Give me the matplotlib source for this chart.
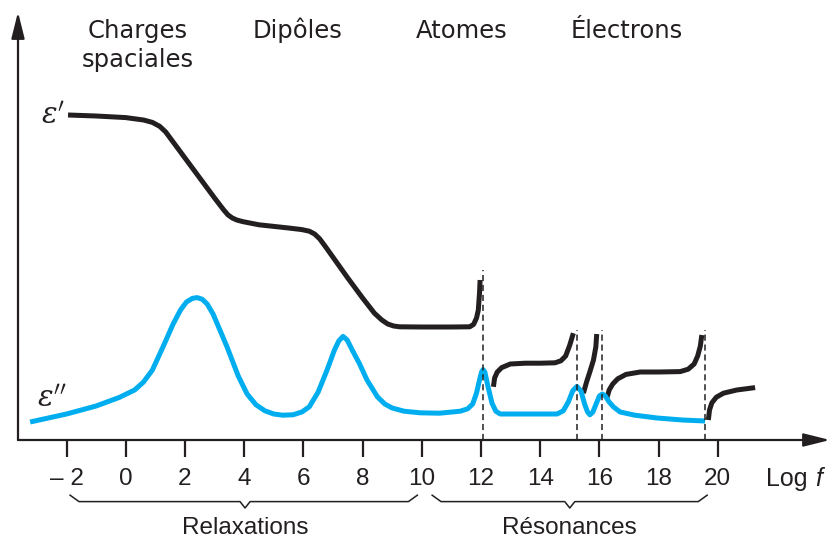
import numpy as np
import matplotlib
matplotlib.use("Agg")
import matplotlib.pyplot as plt

# --- data (x = log f, y = arbitrary units) ---
eps1_x = [-1.95, -1.0, 0.0, 0.6, 0.9, 1.15, 1.35, 1.6, 2.0, 2.5, 3.0, 3.3, 3.45, 3.6, 3.75,
          3.95, 4.5, 5.5, 5.95, 6.2, 6.38, 6.55, 6.75, 7.0, 7.5, 8.0, 8.4, 8.65, 8.85,
          9.05, 9.25, 10.0, 11.0, 11.62, 11.75, 11.85, 11.91, 11.95, 11.97]
eps1_y = [81.25, 81.0, 80.6, 80.0, 79.4, 78.4, 77.0, 74.5, 70.5, 65.5, 60.5, 57.6, 56.3, 55.5, 55.0,
          54.6, 53.8, 53.0, 52.6, 52.2, 51.5, 50.3, 48.3, 45.7, 40.5, 35.5, 31.7, 30.0, 29.0,
          28.5, 28.3, 28.25, 28.25, 28.3, 28.9, 30.5, 32.5, 36.7, 40.0]

eps2_x = [-3.23, -2.0, -1.0, -0.2, 0.3, 0.6, 0.9, 1.26, 1.6, 1.85, 2.05, 2.25, 2.41, 2.58,
          2.75, 2.95, 3.42, 3.8, 4.1, 4.4, 4.7, 5.0, 5.3, 5.65, 5.95, 6.2, 6.5, 6.8, 7.05, 7.2,
          7.34, 7.48, 7.65, 7.9, 8.15, 8.5, 8.75, 9.0, 9.4, 9.94, 10.6, 11.3, 11.55, 11.72,
          11.85, 11.95, 12.02, 12.07, 12.13, 12.24, 12.37, 12.5, 12.65, 13.5, 14.57, 14.78,
          14.95, 15.1, 15.24, 15.38, 15.5, 15.6, 15.68, 15.78, 15.9, 16.0, 16.1, 16.2, 16.32,
          16.47, 16.7, 17.2, 17.95, 18.8, 19.57]
eps2_y = [4.5, 6.5, 8.5, 10.7, 12.5, 14.5, 17.5, 23.3, 29.0, 32.5, 34.5, 35.4, 35.6, 35.2,
          34.0, 31.5, 23.3, 16.0, 11.5, 8.8, 7.3, 6.5, 6.2, 6.3, 7.0, 8.3, 12.0, 17.5, 22.5, 24.8,
          25.9, 25.0, 22.5, 19.0, 15.0, 10.8, 9.0, 8.0, 7.2, 6.8, 6.7, 7.2, 7.8, 9.0,
          11.75, 15.0, 17.0, 17.6, 17.0, 13.25, 9.25, 7.2, 6.5, 6.5, 6.5, 7.3,
          9.5, 12.3, 13.4, 12.2, 9.0, 7.0, 6.3, 7.0, 9.2, 11.0, 11.5, 11.0, 9.6,
          8.3, 7.0, 6.2, 5.5, 5.0, 4.75]

# black resonance segments (epsilon')
res1_x = [12.42, 12.46, 12.55, 12.7, 12.99, 13.5, 14.0, 14.5, 14.7, 14.86, 15.0, 15.12]
res1_y = [13.3, 15.5, 17.0, 18.1, 19.0, 19.2, 19.2, 19.3, 19.8, 21.0, 23.75, 26.7]
res2_x = [15.46, 15.57, 15.68, 15.8, 15.88, 15.91]
res2_y = [11.7, 14.6, 17.1, 20.0, 23.3, 26.5]
res3_x = [16.25, 16.33, 16.45, 16.62, 16.9, 17.38, 18.0, 18.73, 19.0, 19.2, 19.32, 19.41, 19.46]
res3_y = [10.4, 12.5, 14.0, 15.3, 16.4, 17.0, 17.0, 17.1, 17.7, 19.0, 21.0, 23.5, 26.25]
res4_x = [19.68, 19.72, 19.8, 19.95, 20.19, 20.64, 21.26]
res4_y = [5.0, 7.5, 9.3, 10.7, 11.7, 12.5, 13.1]

# resonance frequencies (dashed markers) and their heights
res_freq = [12.06, 15.23, 16.1, 19.57]
res_top = [42.5, 27.5, 27.5, 27.5]

tick_vals = list(range(-2, 21, 2))
tick_labels = ["\u2013 2"] + [str(v) for v in tick_vals[1:]]

mech_labels = ["Charges\nspaciales", "Dip\u00f4les", "Atomes", "\u00c9lectrons"]
mech_x = [0.42, 5.82, 11.36, 16.94]

BLACK = "#231f20"
BLUE = "#00aeef"

plt.rcParams["mathtext.fontset"] = "dejavuserif"

fig = plt.figure(figsize=(8.34, 5.38), dpi=100)
W, H = 834, 538
ax = fig.add_axes([18 / W, (H - 440) / H, (830 - 18) / W, (440 - 12) / H])
ax.set_xlim(-3.64, 23.79)
ax.set_ylim(0, 107)
for s in ax.spines.values():
    s.set_visible(False)

# axes with arrow heads
arrow = dict(arrowstyle="-|>,head_length=1.6,head_width=0.4", mutation_scale=10,
             lw=1.6, color=BLACK, shrinkA=0, shrinkB=0)
ax.annotate("", xy=(1, 0), xytext=(0, 0), xycoords="axes fraction", arrowprops=arrow)
ax.annotate("", xy=(0, 1), xytext=(0, 0), xycoords="axes fraction", arrowprops=arrow)

ax.set_xticks(tick_vals)
ax.set_xticklabels(tick_labels, fontsize=17.5, color=BLACK, family="Liberation Sans")
ax.tick_params(axis="x", direction="out", length=12, width=1.6, color=BLACK, pad=8)
ax.set_yticks([])

# curves
kw = dict(lw=3.6, solid_capstyle="butt", solid_joinstyle="round")
ax.plot(eps1_x, eps1_y, color=BLACK, **kw)
for xs, ys in [(res1_x, res1_y), (res2_x, res2_y), (res3_x, res3_y), (res4_x, res4_y)]:
    ax.plot(xs, ys, color=BLACK, **kw)
ax.plot(eps2_x, eps2_y, color=BLUE, **kw)

for fx, top in zip(res_freq, res_top):
    ax.plot([fx, fx], [0, top], color=BLACK, lw=1.1, ls=(0, (4, 2.5)))

# curve labels
ax.text(-2.05, 81.0, r"$\varepsilon'$", fontsize=21, ha="right", va="center", color=BLACK)
ax.text(-1.98, 10.3, r"$\varepsilon''$", fontsize=21, ha="right", va="center", color=BLACK)

# mechanism titles
for lab, mx in zip(mech_labels, mech_x):
    first = lab.split("\n")[0]
    ax.text(mx, 100.5, first, fontsize=17.5, ha="center", va="baseline", color=BLACK)
    if "\n" in lab:
        ax.text(mx, 93.2, lab.split("\n")[1], fontsize=17.5, ha="center", va="baseline",
                color=BLACK)

# axis name: "Log" upright, "f" italic
ax.text(21.62, -11.4, "Log", fontsize=18, ha="left", va="baseline", color=BLACK,
        family="Liberation Sans")
ax.text(23.3, -11.4, "f", fontsize=18, ha="left", va="baseline", color=BLACK,
        family="Liberation Sans", style="italic")


# curly braces under the axis
def brace(x0, x1, xm, y, ax):
    ys = [y + 1.6, y, y, y - 1.6, y, y, y + 1.6]
    xs = [x0, x0 + 0.3, xm - 0.17, xm, xm + 0.17, x1 - 0.3, x1]
    ax.plot(xs, ys, color=BLACK, lw=1.1, clip_on=False, solid_joinstyle="round")


brace(-1.88, 9.85, 4.03, -15.4, ax)
brace(10.35, 19.64, 15.0, -15.4, ax)
ax.text(4.03, -23.4, "Relaxations", fontsize=17.5, ha="center", va="baseline", color=BLACK,
        family="Liberation Sans")
ax.text(15.0, -23.4, "R\u00e9sonances", fontsize=17.5, ha="center", va="baseline", color=BLACK,
        family="Liberation Sans")

fig.savefig("out.png", dpi=100)
